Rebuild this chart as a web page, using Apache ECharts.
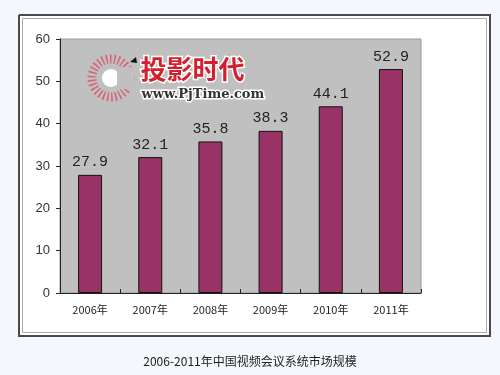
<!DOCTYPE html>
<html><head><meta charset="utf-8">
<script src="https://cdn.jsdelivr.net/npm/echarts@6/dist/echarts.min.js"></script>
<style>html,body{margin:0;padding:0;background:#f4f7fb;}#c{width:500px;height:375px;}</style>
</head><body><div id="c"></div>
<script>
var categories = ['2006年','2007年','2008年','2009年','2010年','2011年'];
var values = [27.9, 32.1, 35.8, 38.3, 44.1, 52.9];
var yTicks = [0, 10, 20, 30, 40, 50, 60];
var title = '2006-2011年中国视频会议系统市场规模';

var chart = echarts.init(document.getElementById('c'), null, {renderer:'canvas'});
chart.setOption({
  backgroundColor: '#f4f7fb',
  animation: false,
  title: {
    text: title, left: 'center', top: 350,
    textStyle: {fontSize: 12, fontWeight: 'normal', color: '#222', fontFamily: 'Noto Sans CJK SC'}
  },
  graphic: {
    elements: [
      {type:'rect', id:'frameFill', z:-10, silent:true, shape:{x:19, y:15, width:471, height:321},
       style:{fill:'#ffffff'}},
      {type:'polyline', id:'frameA', z:50, silent:true,
       shape:{points:[[19,15],[490,15],[490,336],[19,336],[19,15]]},
       style:{fill:null, stroke:'#4a4a4a', lineWidth:2}},
      {type:'polyline', id:'frameB', z:50, silent:true,
       shape:{points:[[22.5,18.5],[486.5,18.5],[486.5,332.5],[22.5,332.5],[22.5,18.5]]},
       style:{fill:null, stroke:'#aaaaaa', lineWidth:1}},
      {type:'circle', id:'logoRing', z:20, shape:{cx:111, cy:78, r:19},
       style:{fill:'none', stroke:'#e0506a', lineWidth:9, lineDash:[1.5,2.5], opacity:0.85}},
      {type:'circle', id:'logoHole', z:20, shape:{cx:111, cy:78, r:9},
       style:{fill:'#ffffff'}},
      {type:'rect', id:'logoCut', z:20, shape:{x:117, y:67, width:17, height:22}, style:{fill:'#c0c0c0'}},
      {type:'polygon', id:'logoTri', z:21, shape:{points:[[130,62],[136,57],[137,63]]}, style:{fill:'#111'}},
      {type:'text', id:'logoCn', z:21, left:139, top:55,
       style:{text:'投影时代', fontSize:26, fontWeight:'bold', fill:'#d4202e', stroke:'#ffffff', lineWidth:3,
              fontFamily:'Noto Sans CJK SC', letterSpacing:6}},
      {type:'text', id:'logoUrl', z:21, left:140, top:87,
       style:{text:'www.PjTime.com', fontSize:13, fontWeight:'bold', fill:'#333',
              stroke:'#ffffff', lineWidth:3, fontFamily:'DejaVu Serif'}}
    ]
  },
  grid: {left: 60, right: 79, top: 39, bottom: 82, show: true, backgroundColor: '#c0c0c0', borderColor: '#999', borderWidth: 1},
  xAxis: {
    type: 'category', data: categories,
    axisLine: {lineStyle: {color: '#222', width: 1}},
    axisTick: {show: true, inside: true, length: 4, lineStyle: {color: '#222'}},
    axisLabel: {fontSize: 11, color: '#222', margin: 11, fontFamily: 'Noto Sans CJK SC'}
  },
  yAxis: {
    type: 'value', min: 0, max: 60, interval: 10,
    axisLine: {show: true, lineStyle: {color: '#222', width: 1}},
    axisTick: {show: true, length: 4, lineStyle: {color: '#222'}},
    splitLine: {show: false},
    axisLabel: {fontSize: 13, color: '#333', margin: 10, fontFamily: 'Liberation Sans',
      formatter: function(v){ return yTicks.indexOf(v) >= 0 ? String(v) : ''; }}
  },
  series: [{
    type: 'bar', data: values, barWidth: 24,
    itemStyle: {color: '#993366', borderColor: '#111', borderWidth: 1},
    label: {show: true, position: 'top', distance: 5, fontSize: 15, color: '#222',
            fontFamily: 'Liberation Mono', formatter: function(p){ return p.value.toFixed(1); }}
  }]
});
</script></body></html>
